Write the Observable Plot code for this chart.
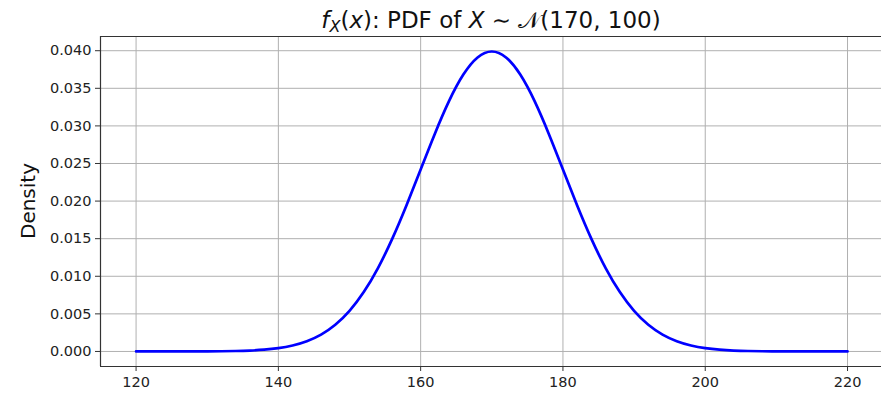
<!DOCTYPE html>
<html><head><meta charset="utf-8">
<script src="https://cdn.jsdelivr.net/npm/d3@7"></script>
<script src="https://cdn.jsdelivr.net/npm/@observablehq/plot@0.6"></script>
<style>body{margin:0;background:#fff;}</style>
</head><body><div id="chart"></div>
<script>
const xValues = [120,122,124,126,128,130,132,134,136,138,140,142,144,146,148,150,152,154,156,158,160,162,164,166,168,170,172,174,176,178,180,182,184,186,188,190,192,194,196,198,200,202,204,206,208,210,212,214,216,218,220];
const densityValues = [0,0.0000001,0.0000004,0.000001,0.0000025,0.0000134,0.0000292,0.0000612,0.000123,0.000238,0.000443,0.000792,0.001358,0.002239,0.003547,0.005399,0.007895,0.011092,0.014973,0.019419,0.024197,0.028969,0.033322,0.036827,0.039104,0.039894,0.039104,0.036827,0.033322,0.028969,0.024197,0.019419,0.014973,0.011092,0.007895,0.005399,0.003547,0.002239,0.001358,0.000792,0.000443,0.000238,0.000123,0.0000612,0.0000292,0.0000134,0.0000025,0.000001,0.0000004,0.0000001,0];
const xTicks = [120,140,160,180,200,220];
const yTicks = [0,0.005,0.010,0.015,0.020,0.025,0.030,0.035,0.040];
const yLabel = "Density";

const data = xValues.map((x, i) => ({x, y: densityValues[i]}));
const xDomain = [115, 225];
const yDomain = [-0.002, 0.04189];

const chart = Plot.plot({
  width: 881, height: 398,
  marginLeft: 100, marginRight: 0, marginTop: 36, marginBottom: 32,
  style: {fontFamily: "DejaVu Sans", fontSize: "14.5px", color: "#222", background: "#fff"},
  x: {domain: xDomain, range: [100, 882.6], label: null},
  y: {domain: yDomain, label: null},
  marks: [
    Plot.gridX(xTicks, {stroke: "#b0b0b0", strokeOpacity: 1, strokeWidth: 1}),
    Plot.gridY(yTicks, {stroke: "#b0b0b0", strokeOpacity: 1, strokeWidth: 1}),
    Plot.line(data, {x: "x", y: "y", stroke: "#0000ff", strokeWidth: 2.7, curve: "natural"}),
    Plot.ruleX([xDomain[0]], {stroke: "#333", strokeWidth: 1.2}),
    Plot.ruleY([yDomain[0], yDomain[1]], {stroke: "#333", strokeWidth: 1.2}),
    Plot.axisX(xTicks, {tickSize: 5, tickPadding: 5, stroke: "#333", fontSize: 14.5, label: null}),
    Plot.axisY(yTicks, {tickSize: 5, tickPadding: 4, stroke: "#333", fontSize: 14.5, tickFormat: d => d.toFixed(3), label: null})
  ]
});
document.getElementById("chart").appendChild(chart);

const svg = d3.select(chart);
const t = svg.append("text")
  .attr("x", 491).attr("y", 28)
  .attr("text-anchor", "middle")
  .attr("font-family", "DejaVu Sans")
  .attr("font-size", 23)
  .attr("fill", "#111");
t.append("tspan").attr("font-style", "italic").text("f");
t.append("tspan").attr("font-style", "italic").attr("font-size", 16).attr("dy", 4).text("X");
t.append("tspan").attr("dy", -4).text("(");
t.append("tspan").attr("font-style", "italic").text("x");
t.append("tspan").text("): PDF of ");
t.append("tspan").attr("font-style", "italic").text("X");
t.append("tspan").text(" ∼ ");
t.append("tspan").text("𝒩");
t.append("tspan").text("(170, 100)");

svg.append("text")
  .attr("transform", "translate(35,201) rotate(-90)")
  .attr("text-anchor", "middle")
  .attr("font-family", "DejaVu Sans")
  .attr("font-size", 20)
  .attr("fill", "#111")
  .text(yLabel);
</script>
</body></html>
